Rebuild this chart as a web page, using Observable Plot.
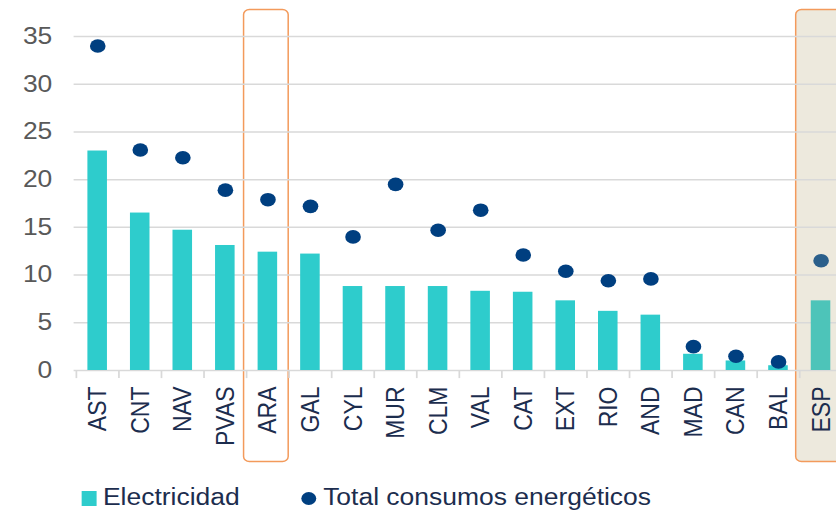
<!DOCTYPE html>
<html>
<head>
<meta charset="utf-8">
<script src="https://cdn.jsdelivr.net/npm/d3@7"></script>
<script src="https://cdn.jsdelivr.net/npm/@observablehq/plot@0.6"></script>
<style>
  html, body { margin: 0; padding: 0; background: #fff; }
  #wrap { position: relative; width: 727px; height: 512px; transform: scaleX(1.15); transform-origin: 0 0;
          font-family: "Liberation Sans", Arial, sans-serif; }
  #chart svg { display: block; overflow: visible; }
  .leg { position: absolute; top: 486px; font-size: 23px; line-height: 23px; color: #1c2d4e; white-space: nowrap; }
  .sw { position: absolute; }
</style>
</head>
<body>
<div id="wrap">
  <div id="chart"></div>
  <div class="sw" style="left:71px; top:491px; width:12.5px; height:15px; background:#2ecccc;"></div>
  <div class="leg" style="left:89.5px;">Electricidad</div>
  <div class="sw" style="left:261.5px; top:491.5px; width:13px; height:13px; border-radius:50%; background:#003f80;"></div>
  <div class="leg" style="left:281px;">Total consumos energéticos</div>
</div>
<script>
const regiones = ["AST","CNT","NAV","PVAS","ARA","GAL","CYL","MUR","CLM","VAL","CAT","EXT","RIO","AND","MAD","CAN","BAL","ESP"];
const electricidad = [23.0,16.5,14.7,13.1,12.4,12.2,8.8,8.8,8.8,8.3,8.2,7.3,6.2,5.8,1.7,1.0,0.5,7.3];
const totalConsumos = [34.0,23.1,22.3,18.9,17.9,17.2,14.0,19.5,14.7,16.8,12.1,10.4,9.4,9.6,2.5,1.5,0.9,11.5];
const yTicks = [0,5,10,15,20,25,30,35];
const destacada = ["ARA"];
const referencia = ["ESP"];

const data = regiones.map((r, i) => ({region: r, elec: electricidad[i], total: totalConsumos[i]}));
const isRef = d => referencia.includes(d.region);

const W = 727;
const chart = Plot.plot({
  width: W,
  height: 475,
  marginTop: 36,
  marginBottom: 105,
  marginLeft: 64,
  marginRight: 0,
  style: { fontFamily: "'Liberation Sans', Arial, sans-serif", background: "transparent", overflow: "visible" },
  x: { type: "band", domain: regiones, range: [64, 733], paddingInner: 0.55, paddingOuter: 0.275, label: null },
  y: { domain: [0, 35], range: [370, 36], label: null },
  marks: [
    Plot.barY(referencia, { x: d => d, y1: 0, y2: 35, fill: "#ede9dd", stroke: "#f39a5b", strokeWidth: 1.3, rx: 5,
      insetLeft: -13.1, insetRight: -40, insetTop: -26.5, insetBottom: -91.5, ariaLabel: "caja" }),
    Plot.barY(destacada, { x: d => d, y1: 0, y2: 35, fill: "#ffffff", stroke: "#f39a5b", strokeWidth: 1.3, rx: 5,
      insetLeft: -12.2, insetRight: -9.6, insetTop: -26.5, insetBottom: -91.5, ariaLabel: "caja" }),
    Plot.gridY(yTicks.slice(1), { stroke: "#d9d9d9", strokeOpacity: 1, strokeWidth: 1.5 }),
    Plot.ruleY([0], { stroke: "#d9d9d9", strokeWidth: 1.5 }),
    Plot.ruleX(regiones, { x: d => d, y1: 0, y2: -0.85, dx: -18.58, stroke: "#d9d9d9", strokeWidth: 1.5 }),
    Plot.barY(data, { x: "region", y: "elec", fill: d => isRef(d) ? "#4dc4b9" : "#2ecccc" }),
    Plot.dot(data, { x: "region", y: "total", r: 6.8, fill: d => isRef(d) ? "#2b5f8b" : "#003f80", stroke: "none" }),
    Plot.axisY({ ticks: yTicks, tickSize: 0, tickPadding: 19, fontSize: 23, color: "#595959", label: null }),
    Plot.axisX({ tickSize: 0, tickRotate: -90, tickPadding: 16, fontSize: 23, color: "#1c2d4e", label: null })
  ]
});
d3.select(chart).selectAll('g[aria-label="caja"] rect').style("filter", "drop-shadow(0px 3px 4px rgba(0,0,0,0.16))");
document.getElementById("chart").appendChild(chart);
</script>
</body>
</html>
